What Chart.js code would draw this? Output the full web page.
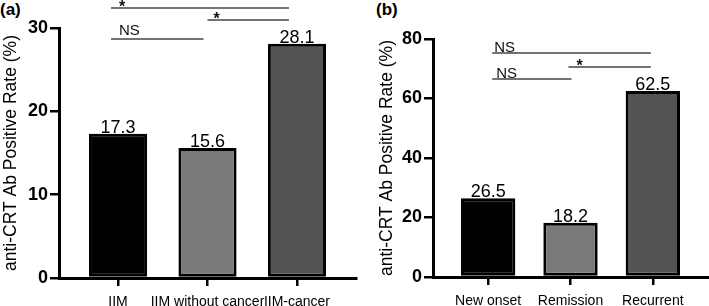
<!DOCTYPE html>
<html>
<head>
<meta charset="utf-8">
<script src="https://cdn.jsdelivr.net/npm/chart.js@4/dist/chart.umd.min.js"></script>
<style>
  html, body { margin: 0; padding: 0; background: #fff; }
  body { width: 709px; height: 306px; position: relative; overflow: hidden; font-family: 'Liberation Sans', Arial, sans-serif; }
  .wrap { position: absolute; top: 0; height: 306px; }
  .plabel { position: absolute; top: 0px; font-weight: bold; font-size: 17px; color: #000; line-height: 20px; }
</style>
</head>
<body>
<div class="plabel" style="left:0px;">(a)</div>
<div class="plabel" style="left:376px;">(b)</div>
<div class="wrap" style="left:0;width:360px;"><canvas id="ca"></canvas></div>
<div class="wrap" style="left:360px;width:349px;"><canvas id="cb"></canvas></div>
<script>
// ---- data ----
const catsA = ['IIM', 'IIM without cancer', 'IIM-cancer'];
const valsA = [17.3, 15.6, 28.1];
const ticksA = [0, 10, 20, 30];
const sigPairsA = [[0, 2], [1, 2], [0, 1]];
const sigLabelsA = ['*', '*', 'NS'];

const catsB = ['New onset', 'Remission', 'Recurrent'];
const valsB = [26.5, 18.2, 62.5];
const ticksB = [0, 20, 40, 60, 80];
const sigPairsB = [[0, 2], [1, 2], [0, 1]];
const sigLabelsB = ['NS', '*', 'NS'];

const yTitle = 'anti-CRT Ab Positive Rate (%)';
const barColors = ['#000000', '#797979', '#535353'];

Chart.defaults.font.family = "'Liberation Sans', Arial, sans-serif";
Chart.defaults.color = '#000';

function makeChart(id, cats, vals, ticks, pairs, labels, st) {
  const annot = {
    id: 'annot_' + id,
    afterDatasetsDraw(chart) {
      const ctx = chart.ctx;
      const meta = chart.getDatasetMeta(0);
      ctx.save();
      ctx.fillStyle = '#000';
      ctx.font = "18px 'Liberation Sans', Arial, sans-serif";
      ctx.textAlign = 'center';
      ctx.textBaseline = 'alphabetic';
      meta.data.forEach((el, i) => {
        ctx.fillText(vals[i].toFixed(1), el.x, el.y - 1);
      });
      // significance lines
      const xs = chart.scales.x;
      const top = chart.chartArea.top;
      pairs.forEach((p, k) => {
        const x1 = xs.getPixelForValue(p[0]) + st.dx[k][0];
        const x2 = xs.getPixelForValue(p[1]) + st.dx[k][1];
        const y = top + st.dy[k];
        ctx.strokeStyle = '#444';
        ctx.lineWidth = 1.5;
        ctx.beginPath();
        ctx.moveTo(x1, y);
        ctx.lineTo(x2, y);
        ctx.stroke();
        const isStar = labels[k] === '*';
        ctx.fillStyle = '#111';
        ctx.textAlign = 'left';
        ctx.font = isStar ? "bold 16px 'Liberation Sans', Arial, sans-serif" : "15px 'Liberation Sans', Arial, sans-serif";
        ctx.fillText(labels[k], x1 + st.tx[k], y + (isStar ? st.starDy : st.nsDy));
      });
      ctx.restore();
    }
  };
  return new Chart(document.getElementById(id), {
    type: 'bar',
    data: {
      datasets: [{
        data: vals.map((v, i) => ({ x: i, y: v })),
        backgroundColor: barColors,
        borderColor: '#000',
        borderWidth: 3,
        borderSkipped: false,
        barPercentage: st.barPct,
        categoryPercentage: 1
      }]
    },
    options: {
      responsive: true,
      maintainAspectRatio: false,
      animation: false,
      events: [],
      layout: { padding: st.pad },
      plugins: { legend: { display: false }, tooltip: { enabled: false } },
      scales: {
        x: {
          type: 'linear',
          min: -st.edge, max: cats.length - 1 + st.edge,
          offset: false,
          afterBuildTicks: s => { s.ticks = cats.map((_, i) => ({ value: i })); },
          afterFit: s => { s.height = st.xH; },
          ticks: { callback: v => cats[v], font: { size: 14 }, color: '#000', padding: st.xPad, maxRotation: 0, autoSkip: false },
          grid: { offset: false, drawOnChartArea: false, drawTicks: true, tickLength: 8, color: '#000', lineWidth: 2.5 },
          border: { display: true, color: '#000', width: 3 }
        },
        y: {
          min: 0, max: ticks[ticks.length - 1],
          afterBuildTicks: s => { s.ticks = ticks.map(v => ({ value: v })); },
          afterFit: s => { s.width = st.yW; },
          ticks: { font: { size: 18, weight: 'bold' }, color: '#000', padding: 2 },
          grid: { drawOnChartArea: false, drawTicks: true, tickLength: 9, color: '#000', lineWidth: 2.5 },
          border: { display: true, color: '#000', width: 3 },
          title: { display: true, text: yTitle, font: { size: 17.5 }, color: '#000', padding: { top: 1, bottom: 0 } }
        }
      }
    },
    plugins: [annot]
  });
}

makeChart('ca', catsA, valsA, ticksA, sigPairsA, sigLabelsA, {
  pad: { top: 28, left: 0, right: 4, bottom: 0 },
  yW: 59, xH: 28, xPad: 8, edge: 0.66, barPct: 0.65,
  dx: [[-7, -8], [0, -8], [-7, -4]],
  dy: [-20, -8, 11],
  tx: [8, 6, 8],
  starDy: 4, nsDy: -4
});
makeChart('cb', catsB, valsB, ticksB, sigPairsB, sigLabelsB, {
  pad: { top: 39, left: 16, right: 1, bottom: 0 },
  yW: 57, xH: 29, xPad: 8, edge: 0.67, barPct: 0.66,
  dx: [[4, -2], [-2, -2], [4, 1]],
  dy: [14, 28, 40],
  tx: [2, 8, 4],
  starDy: 4, nsDy: -1
});
</script>
</body>
</html>
